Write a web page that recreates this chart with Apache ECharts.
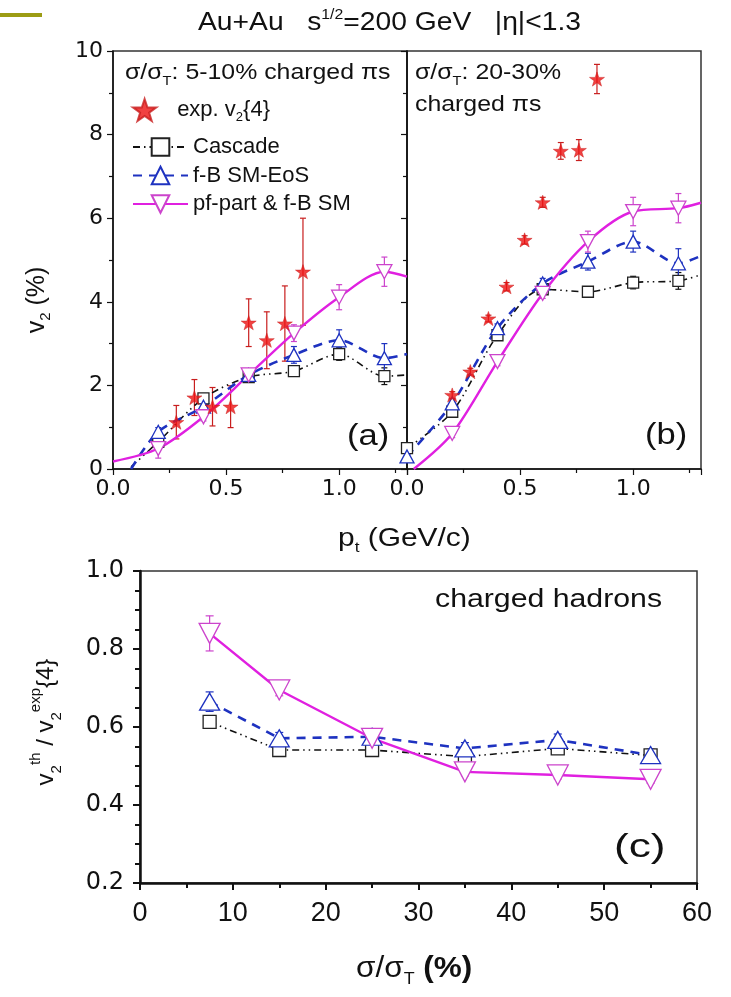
<!DOCTYPE html>
<html><head><meta charset="utf-8">
<script src="https://cdn.jsdelivr.net/npm/echarts@6/dist/echarts.min.js"></script>
<style>html,body{margin:0;padding:0;background:#fff}#c{width:731px;height:997px}</style>
</head><body><div id="c"></div>
<script>
// ---------- data ----------
// Panel (a): 5-10% centrality, charged pions
const ptModel = [0.2, 0.4, 0.6, 0.8, 1.0, 1.2];
const expA_pt = [0.28, 0.36, 0.44, 0.52, 0.60, 0.68, 0.76, 0.84];
const expA_v2 = [1.12, 1.71, 1.49, 1.49, 3.50, 3.08, 3.48, 4.72];
const expA_err = [0.40, 0.43, 0.46, 0.50, 0.57, 0.68, 0.90, 1.28];
const cascA_v2 = [0.65, 1.69, 2.20, 2.34, 2.75, 2.22];
const cascA_err = [0.08, 0.10, 0.10, 0.10, 0.15, 0.20];
const cascA_ends = [[0.08, 0.05], [1.3, 2.25]];
const fbA_v2 = [0.89, 1.49, 2.25, 2.73, 3.08, 2.65];
const fbA_err = [0.10, 0.10, 0.12, 0.20, 0.25, 0.35];
const fbA_ends = [[0.08, 0.0], [1.3, 2.75]];
const pfA_v2 = [0.49, 1.25, 2.25, 3.25, 4.11, 4.72];
const pfA_err = [0.23, 0.10, 0.12, 0.20, 0.30, 0.35];
const pfA_ends = [[0.0, 0.18], [1.3, 4.6]];

// Panel (b): 20-30% centrality, charged pions
const expB_pt = [0.20, 0.28, 0.36, 0.44, 0.52, 0.60, 0.68, 0.76, 0.84];
const expB_v2 = [1.77, 2.33, 3.60, 4.36, 5.48, 6.38, 7.61, 7.63, 9.33];
const expB_err = [0.08, 0.08, 0.08, 0.10, 0.10, 0.12, 0.20, 0.25, 0.35];
const cascB_pt = [0.0, 0.2, 0.4, 0.6, 0.8, 1.0, 1.2];
const cascB_v2 = [0.50, 1.37, 3.20, 4.30, 4.24, 4.46, 4.50];
const cascB_err = [0.05, 0.10, 0.10, 0.10, 0.10, 0.15, 0.20];
const cascB_ends = [null, [1.3, 4.65]];
const fbB_pt = [0.0, 0.2, 0.4, 0.6, 0.8, 1.0, 1.2];
const fbB_v2 = [0.30, 1.57, 3.37, 4.44, 4.96, 5.44, 4.92];
const fbB_err = [0.05, 0.10, 0.10, 0.12, 0.20, 0.25, 0.35];
const fbB_ends = [null, [1.3, 5.1]];
const pfB_v2 = [0.85, 2.57, 4.20, 5.44, 6.16, 6.24];
const pfB_err = [0.10, 0.10, 0.12, 0.25, 0.34, 0.35];
const pfB_ends = [[0.03, 0.0], [1.3, 6.37]];

// Panel (c): ratio vs centrality, charged hadrons
const centC = [7.5, 15, 25, 35, 45, 55];
const cascC = [0.613, 0.541, 0.541, 0.524, 0.545, 0.527];
const cascC_err = [0.010, 0.010, 0.010, 0.010, 0.010, 0.010];
const fbC = [0.665, 0.571, 0.575, 0.545, 0.567, 0.528];
const fbC_err = [0.025, 0.015, 0.015, 0.015, 0.015, 0.015];
const pfC = [0.840, 0.695, 0.571, 0.485, 0.477, 0.466];
const pfC_err = [0.045, 0.015, 0.015, 0.010, 0.010, 0.010];

const NAME_EXP = 'exp. v2{4}', NAME_CAS = 'Cascade', NAME_FB = 'f-B SM-EoS', NAME_PF = 'pf-part & f-B SM';

// ---------- styles ----------
const RED = '#ee1111', DARKRED = '#c81e1e';
const BLACK = '#111111', BLUE = '#1e32c0', MAG = '#e020e0', MAGM = '#cc44cc';
const STAR = 'path://M50,0 L61.8,35.1 L98.1,35.1 L68.8,56.7 L79.4,91 L50,70 L20.6,91 L31.2,56.7 L1.9,35.1 L38.2,35.1 Z';
const stCas = {symbol: 'rect', rotate: 0, color: BLACK, mcolor: '#222', width: 1.6, dash: [7, 4, 1.5, 4, 1.5, 4]};
const stFb = {symbol: 'triangle', rotate: 0, color: BLUE, mcolor: BLUE, width: 2.6, dash: [9, 7]};
const stPf = {symbol: 'triangle', rotate: 180, color: MAG, mcolor: MAGM, width: 2.4, dash: 'solid'};

function errSeries(xs, ys, es, color, gi, cap) {
  return {
    type: 'custom', xAxisIndex: gi, yAxisIndex: gi, z: 1, silent: true, animation: false,
    data: xs.map((x, i) => [x, ys[i], es[i]]),
    encode: {x: 0, y: 1},
    renderItem: (params, api) => {
      const x = api.value(0), y = api.value(1), e = api.value(2);
      const p1 = api.coord([x, y + e]), p2 = api.coord([x, y - e]);
      const style = {stroke: color, lineWidth: 1.2};
      return {type: 'group', children: [
        {type: 'line', shape: {x1: p1[0], y1: p1[1], x2: p2[0], y2: p2[1]}, style},
        {type: 'line', shape: {x1: p1[0] - cap, y1: p1[1], x2: p1[0] + cap, y2: p1[1]}, style},
        {type: 'line', shape: {x1: p2[0] - cap, y1: p2[1], x2: p2[0] + cap, y2: p2[1]}, style}
      ]};
    }
  };
}
function modelSeries(name, xs, ys, ends, st, gi, size, smooth) {
  const data = [];
  if (ends && ends[0]) data.push({value: ends[0], symbol: 'none'});
  xs.forEach((x, i) => data.push([x, ys[i]]));
  if (ends && ends[1]) data.push({value: ends[1], symbol: 'none'});
  return {
    type: 'line', name, xAxisIndex: gi, yAxisIndex: gi, data, smooth: smooth,
    symbol: st.symbol, symbolSize: size, symbolRotate: st.rotate, showAllSymbol: true,
    z: 3, animation: false, clip: true,
    lineStyle: {color: st.color, width: st.width, type: st.dash},
    itemStyle: {color: '#fff', borderColor: st.mcolor, borderWidth: 1.3}
  };
}
function expSeries(xs, ys, gi) {
  return {
    type: 'scatter', name: NAME_EXP, xAxisIndex: gi, yAxisIndex: gi, z: 4, animation: false,
    data: xs.map((x, i) => [x, ys[i]]),
    symbol: STAR, symbolSize: 15, symbolKeepAspect: true,
    itemStyle: {color: RED, borderColor: DARKRED, borderWidth: 0.6}
  };
}

const series = [
  // panel (a)
  errSeries(expA_pt, expA_v2, expA_err, DARKRED, 0, 3),
  errSeries(ptModel, cascA_v2, cascA_err, BLACK, 0, 3),
  errSeries(ptModel, fbA_v2, fbA_err, BLUE, 0, 3),
  errSeries(ptModel, pfA_v2, pfA_err, MAGM, 0, 3),
  modelSeries(NAME_CAS, ptModel, cascA_v2, cascA_ends, stCas, 0, 11, 0.3),
  modelSeries(NAME_FB, ptModel, fbA_v2, fbA_ends, stFb, 0, [14, 13], 0.3),
  modelSeries(NAME_PF, ptModel, pfA_v2, pfA_ends, stPf, 0, [15, 14], 0.3),
  expSeries(expA_pt, expA_v2, 0),
  // panel (b)
  errSeries(expB_pt, expB_v2, expB_err, DARKRED, 1, 3),
  errSeries(cascB_pt, cascB_v2, cascB_err, BLACK, 1, 3),
  errSeries(fbB_pt, fbB_v2, fbB_err, BLUE, 1, 3),
  errSeries(ptModel, pfB_v2, pfB_err, MAGM, 1, 3),
  modelSeries(NAME_CAS, cascB_pt, cascB_v2, cascB_ends, stCas, 1, 11, 0.3),
  modelSeries(NAME_FB, fbB_pt, fbB_v2, fbB_ends, stFb, 1, [14, 13], 0.3),
  modelSeries(NAME_PF, ptModel, pfB_v2, pfB_ends, stPf, 1, [15, 14], 0.3),
  expSeries(expB_pt, expB_v2, 1),
  // panel (c)
  errSeries(centC, cascC, cascC_err, BLACK, 2, 4),
  errSeries(centC, fbC, fbC_err, BLUE, 2, 4),
  errSeries(centC, pfC, pfC_err, MAGM, 2, 4),
  modelSeries(NAME_CAS, centC, cascC, null, stCas, 2, 13, 0),
  modelSeries(NAME_FB, centC, fbC, null, stFb, 2, [20, 17], 0),
  modelSeries(NAME_PF, centC, pfC, null, stPf, 2, [21, 20], 0)
];

const AX = '#111';
const tickFont = {fontFamily: 'DejaVu Sans', fontSize: 22, color: AX};
function xAxisTop(gi) {
  return {
    gridIndex: gi, type: 'value', min: 0, max: 1.3, interval: 0.5,
    axisLine: {onZero: false, lineStyle: {color: AX, width: 1.5}},
    axisTick: {inside: false, length: 6, lineStyle: {color: AX, width: 1.2}},
    minorTick: {show: true, splitNumber: 2, length: 4, lineStyle: {color: AX, width: 1.2}},
    splitLine: {show: false},
    axisLabel: Object.assign({margin: 9, formatter: v => (Math.abs(v / 0.5 - Math.round(v / 0.5)) < 1e-6 ? v.toFixed(1) : '')}, tickFont)
  };
}
function yAxisTop(gi, showLabel) {
  return {
    gridIndex: gi, type: 'value', min: 0, max: 10, interval: 2,
    axisLine: {onZero: false, lineStyle: {color: AX, width: 1.5}},
    axisTick: {inside: false, length: 6, lineStyle: {color: AX, width: 1.2}},
    minorTick: {show: true, splitNumber: 2, length: 4, lineStyle: {color: AX, width: 1.2}},
    splitLine: {show: false},
    axisLabel: Object.assign({show: showLabel, margin: 10}, tickFont)
  };
}

const txt = (x, y, text, size, scaleX, extra) => Object.assign({
  type: 'text', x: x, y: y, scaleX: scaleX, z: 10,
  style: Object.assign({
    text: text, x: 0, y: 0, fill: '#111',
    font: size + 'px "Liberation Sans", Arial, sans-serif',
    textVerticalAlign: 'middle', textAlign: 'left'
  }, extra || {})
});
const subRich = (fs) => ({
  sub: {fontSize: fs, fontFamily: 'Liberation Sans', verticalAlign: 'bottom', lineHeight: fs, fill: '#111'},
  sup: {fontSize: fs, fontFamily: 'Liberation Sans', verticalAlign: 'top', lineHeight: fs, fill: '#111'}
});

const option = {
  animation: false,
  backgroundColor: '#fff',
  grid: [
    {left: 113, top: 51, width: 294, height: 418, show: true, borderColor: '#333', borderWidth: 1.5, backgroundColor: 'transparent'},
    {left: 407, top: 51, width: 294, height: 418, show: true, borderColor: '#333', borderWidth: 1.5, backgroundColor: 'transparent'},
    {left: 140, top: 571, width: 557, height: 312, show: true, borderColor: '#333', borderWidth: 1.5, backgroundColor: 'transparent'}
  ],
  xAxis: [
    xAxisTop(0), xAxisTop(1),
    {
      gridIndex: 2, type: 'value', min: 0, max: 60, interval: 10,
      axisLine: {onZero: false, lineStyle: {color: AX, width: 2.5}},
      axisTick: {inside: false, length: 7, lineStyle: {color: AX, width: 2}},
      minorTick: {show: true, splitNumber: 2, length: 5, lineStyle: {color: AX, width: 2}},
      splitLine: {show: false},
      axisLabel: Object.assign({margin: 17}, tickFont, {fontFamily: 'Liberation Sans', fontSize: 27})
    }
  ],
  yAxis: [
    yAxisTop(0, true), yAxisTop(1, false),
    {
      gridIndex: 2, type: 'value', min: 0.2, max: 1.0, interval: 0.2,
      axisLine: {onZero: false, lineStyle: {color: AX, width: 2.5}},
      axisTick: {inside: false, length: 7, lineStyle: {color: AX, width: 2}},
      minorTick: {show: true, splitNumber: 4, length: 5, lineStyle: {color: AX, width: 2}},
      splitLine: {show: false},
      axisLabel: Object.assign({margin: 16, formatter: v => v.toFixed(1)}, tickFont, {fontSize: 24})
    }
  ],
  legend: [
    {
      data: [NAME_EXP], left: 127, top: 91, orient: 'vertical', selectedMode: false,
      itemWidth: 55, itemHeight: 22, itemGap: 6,
      formatter: () => 'exp. v{sub|2}{4}',
      textStyle: {fontFamily: 'Liberation Sans', fontSize: 22, color: '#111', lineHeight: 28,
        rich: {sub: {fontSize: 13, verticalAlign: 'bottom', lineHeight: 13, fontFamily: 'Liberation Sans', color: '#111'}}}
    },
    {
      data: [NAME_CAS, NAME_FB, NAME_PF], left: 127, top: 131, orient: 'vertical', selectedMode: false,
      itemWidth: 55, itemHeight: 22, itemGap: 6.5,
      textStyle: {fontFamily: 'Liberation Sans', fontSize: 22, color: '#111', lineHeight: 22}
    }
  ],
  graphic: [
    {type: 'rect', shape: {x: 0, y: 13, width: 42, height: 4}, style: {fill: '#9c9c14'}},
    txt(198, 23, 'Au+Au   s{sup|1/2}=200 GeV   |η|<1.3', 25, 1.13, {lineHeight: 30, rich: subRich(14)}),
    txt(125, 73, 'σ/σ{sub|T}: 5-10% charged πs', 22, 1.13, {lineHeight: 30, rich: subRich(13)}),
    txt(415, 73, 'σ/σ{sub|T}: 20-30%', 22, 1.13, {lineHeight: 30, rich: subRich(13)}),
    txt(415, 105, 'charged πs', 22, 1.13),
    txt(347, 437, '(a)', 30, 1.15),
    txt(645, 436, '(b)', 30, 1.15),
    txt(435, 600, 'charged hadrons', 25, 1.21),
    txt(614, 848, '(c)', 34, 1.3),
    txt(338, 539, 'p{sub|t} (GeV/c)', 26, 1.15, {lineHeight: 32, rich: subRich(15)}),
    Object.assign(txt(37, 300, 'v{sub|2} (%)', 25, 1, {textAlign: 'center', lineHeight: 32, rich: subRich(15)}), {rotation: Math.PI / 2}),
    Object.assign(txt(46, 722, 'v{sub|2}{sup|th} / v{sub|2}{sup|exp}{4}', 24, 1, {textAlign: 'center', lineHeight: 36, rich: subRich(15)}), {rotation: Math.PI / 2}),
    txt(356, 969, 'σ/σ{sub|T} {b|(%)}', 30, 1.05, {lineHeight: 38, rich: Object.assign(subRich(17), {b: {fontSize: 30, fontWeight: 'bold', fontFamily: 'Liberation Sans', fill: '#111'}})})
  ],
  series: series
};

const chart = echarts.init(document.getElementById('c'), null, {renderer: 'canvas'});
chart.setOption(option);
</script>
</body></html>
